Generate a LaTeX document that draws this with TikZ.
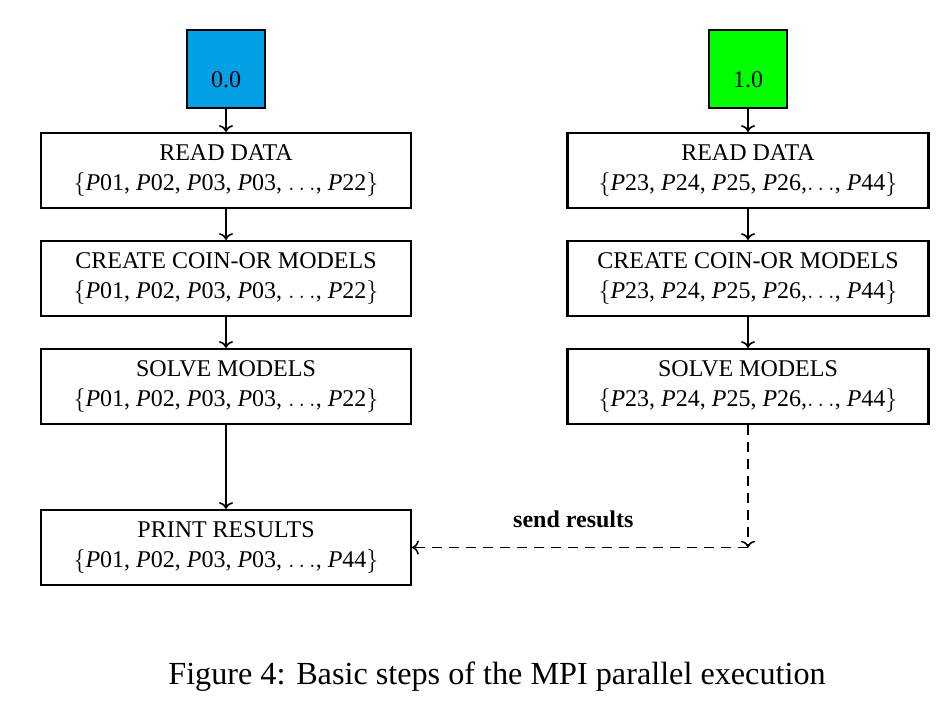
\documentclass[tikz,border=0pt]{standalone}
\usepackage{fontspec}
\setmainfont{Liberation Serif}
\usetikzlibrary{shapes, arrows.meta, positioning}
\definecolor{rankblue}{RGB}{4,160,230}
\definecolor{rankgreen}{RGB}{0,255,0}

\begin{document}
\begin{tikzpicture}[node distance=15.4pt, font=\fontsize{12}{15}\selectfont]
    \tikzstyle{rank} = [rectangle, draw, line width=1.1pt, minimum size=39pt, text height=1.85em, inner sep=0pt]
    \tikzstyle{processl} = [rectangle, draw, line width=1.1pt, align=center, minimum width=185pt, minimum height=37.5pt, inner sep=0pt]
    \tikzstyle{processr} = [processl, minimum width=180.5pt]
    \tikzstyle{arrow} = [line width=0.8pt, ->]
    \tikzstyle{sendarrow} = [arrow, dash pattern=on 5pt off 3.5pt]

    \useasboundingbox (0,0) rectangle (476pt,-358.5pt);

    \node (master) [rank, fill=rankblue] at (113pt,-34.5pt) {0.0};
    \node (slave) [rank, fill=rankgreen] at (374pt,-34.5pt) {1.0};

    % Left column
    \node (readl) [processl, below=11.4pt of master] {READ DATA\\$\{$\textit{P}01, \textit{P}02, \textit{P}03, \textit{P}03, $\ldots$, \textit{P}22$\}$};
    \node (createl) [processl, below=of readl] {CREATE COIN-OR MODELS\\$\{$\textit{P}01, \textit{P}02, \textit{P}03, \textit{P}03, $\ldots$, \textit{P}22$\}$};
    \node (solvel) [processl, below=of createl] {SOLVE MODELS\\$\{$\textit{P}01, \textit{P}02, \textit{P}03, \textit{P}03, $\ldots$, \textit{P}22$\}$};
    \node (printl) [processl, below=41.9pt of solvel] {PRINT RESULTS\\$\{$\textit{P}01, \textit{P}02, \textit{P}03, \textit{P}03, $\ldots$, \textit{P}44$\}$};

    % Right column
    \node (readr) [processr, below=11.4pt of slave] {READ DATA\\$\{$\textit{P}23, \textit{P}24, \textit{P}25, \textit{P}26,$\ldots$, \textit{P}44$\}$};
    \node (creater) [processr, below=of readr] {CREATE COIN-OR MODELS\\$\{$\textit{P}23, \textit{P}24, \textit{P}25, \textit{P}26,$\ldots$, \textit{P}44$\}$};
    \node (solver) [processr, below=of creater] {SOLVE MODELS\\$\{$\textit{P}23, \textit{P}24, \textit{P}25, \textit{P}26,$\ldots$, \textit{P}44$\}$};
    \coordinate (corner) at (solver.south |- printl.east);

    \node (caption) at (248.5pt,-338.5pt) {\fontsize{16.1}{19}\selectfont Figure 4: Basic steps of the MPI parallel execution};

    % Arrows
    \draw [arrow] (master) -- (readl);
    \draw [arrow] (readl) -- (createl);
    \draw [arrow] (createl) -- (solvel);
    \draw [arrow] (solvel) -- (printl);
    \draw [arrow] (slave) -- (readr);
    \draw [arrow] (readr) -- (creater);
    \draw [arrow] (creater) -- (solver);
    \draw [sendarrow] (solver) -- (corner);
    \draw [sendarrow] (corner) -- node[above=6pt, pos=0.52, font=\fontsize{12}{15}\selectfont\bfseries] {send results} (printl);
\end{tikzpicture}
\end{document}
